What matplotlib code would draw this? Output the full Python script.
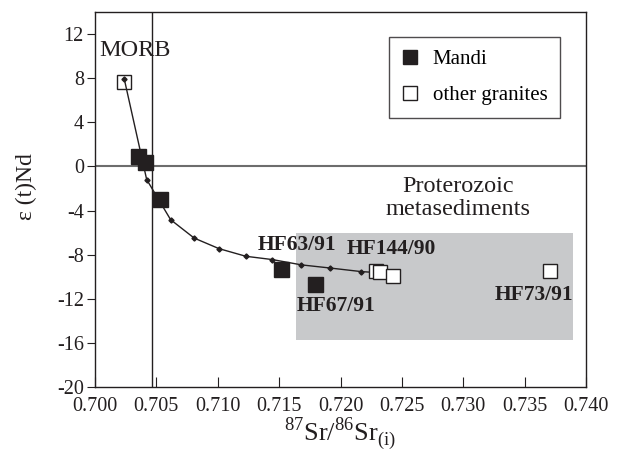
import matplotlib
matplotlib.use("Agg")
import matplotlib.pyplot as plt
from matplotlib.patches import Rectangle

plt.rcParams["font.family"] = ["Liberation Serif", "DejaVu Serif"]
plt.rcParams["mathtext.fontset"] = "custom"
plt.rcParams["mathtext.rm"] = "Liberation Serif"
plt.rcParams["axes.unicode_minus"] = False

# Mandi granites (filled squares)
mandi_sr = [0.70352, 0.70407, 0.70529, 0.71519, 0.71790]
mandi_nd = [0.92, 0.38, -2.93, -9.33, -10.62]

# other granites (open squares)
other_sr = [0.70238, 0.72286, 0.72319, 0.72427, 0.73708]
other_nd = [7.62, -9.48, -9.57, -9.96, -9.48]

# mixing curve ticks (small dots), last point = end of the curve
mix_sr = [0.70238, 0.70421, 0.70616, 0.70808, 0.71011, 0.71229,
          0.71446, 0.71682, 0.71912, 0.72170, 0.72230]
mix_nd = [7.95, -1.19, -4.83, -6.50, -7.46, -8.15,
          -8.45, -8.93, -9.21, -9.54, -9.58]

# Proterozoic metasediments field
meta_sr = (0.71641, 0.73897)
meta_nd = (-15.7, -6.0)

morb_sr = 0.70466
sample_labels = [("HF63/91", 0.71326, -7.61), ("HF144/90", 0.72048, -7.97),
                 ("HF67/91", 0.71641, -13.13), ("HF73/91", 0.73260, -12.14)]

dark = "#231f20"

fig = plt.figure(figsize=(6.2, 4.59), dpi=100)
ax = fig.add_axes([0.1532, 0.1569, 0.792, 0.817])

ax.add_patch(Rectangle((meta_sr[0], meta_nd[0]), meta_sr[1] - meta_sr[0],
                       meta_nd[1] - meta_nd[0], facecolor="#c8c9cb",
                       edgecolor="none", zorder=0))
ax.axhline(0, color="#6d6d6d", lw=1.5, zorder=1)
ax.axvline(morb_sr, color=dark, lw=1, zorder=1)

ax.plot(other_sr, other_nd, ls="none", marker="s", ms=10.5,
        mfc="white", mec=dark, mew=1, label="other granites", zorder=2)
ax.plot(mix_sr, mix_nd, color=dark, lw=1, marker="D", ms=2.6,
        markevery=list(range(len(mix_sr) - 1)), zorder=2.5)
ax.plot(mandi_sr, mandi_nd, ls="none", marker="s", ms=10.8,
        mfc=dark, mec=dark, label="Mandi", zorder=3)

ax.text(0.70033, 10.04, "MORB", fontsize=17.5, color=dark)
ax.text(0.72954, -2.36, "Proterozoic", fontsize=17.5, ha="center", color=dark)
ax.text(0.72954, -4.44, "metasediments", fontsize=17.5, ha="center", color=dark)
for name, x, y in sample_labels:
    ax.text(x, y, name, fontsize=15.5, fontweight="bold", color=dark)

ax.set_xlim(0.700, 0.740)
ax.set_ylim(-20, 14)
ax.set_xticks([0.700 + 0.005 * i for i in range(9)])
ax.set_xticklabels(["%.3f" % (0.700 + 0.005 * i) for i in range(9)])
ax.set_yticks(range(-20, 13, 4))
ax.tick_params(axis="x", direction="in", length=7, labelsize=14.5, pad=7,
               colors=dark)
ax.tick_params(axis="y", direction="out", length=6, labelsize=14.5, pad=2,
               colors=dark)
for s in ax.spines.values():
    s.set_color(dark)
    s.set_linewidth(1)

ax.set_xlabel(r"$^{87}\mathrm{Sr}/^{86}\mathrm{Sr}_{(\mathrm{i})}$",
              fontsize=19, labelpad=0, color=dark)
fig.text(26 / 620, 1 - 187 / 459, "\u03b5 (t)Nd", rotation=90,
         fontsize=17, ha="center", va="center", color=dark)

# legend: Mandi first, as in the reference
handles, labels = ax.get_legend_handles_labels()
leg = ax.legend(handles[::-1], labels[::-1], loc="upper right",
                bbox_to_anchor=(0.947, 0.933),
                borderaxespad=0, fontsize=15, frameon=True, fancybox=False,
                handlelength=0.8, handletextpad=0.7, labelspacing=0.8,
                borderpad=0.6, numpoints=1)
leg.get_frame().set_edgecolor(dark)
leg.get_frame().set_linewidth(1)
for h in leg.legend_handles:
    h.set_markersize(10)

fig.savefig("out.png", dpi=100)
